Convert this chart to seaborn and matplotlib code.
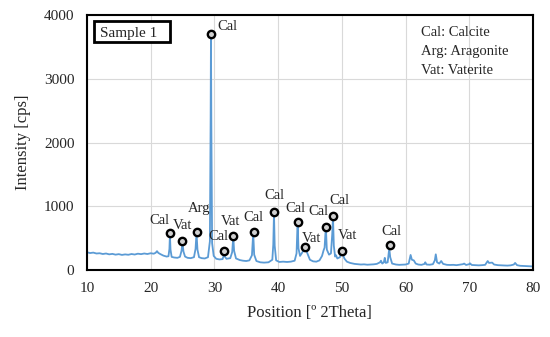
import numpy as np
import pandas as pd
import matplotlib
matplotlib.use("Agg")
import matplotlib.pyplot as plt
import seaborn as sns
from matplotlib.patches import Rectangle

# XRD pattern
two_theta = [10.0, 10.5, 11.0, 11.5, 12.0, 12.5, 13.0, 13.5, 14.0, 14.5, 15.0, 15.5, 16.0, 16.5,
             17.0, 17.5, 18.0, 18.5, 19.0, 19.5, 20.0, 20.5, 20.8, 21.0, 21.2, 21.5, 22.0, 22.5,
             22.8, 22.95, 23.03, 23.12, 23.3, 23.7, 24.2, 24.6, 24.85, 25.0, 25.15, 25.4, 25.8,
             26.3, 26.8, 27.05, 27.2, 27.35, 27.6, 28.0, 28.5, 29.0, 29.3, 29.42, 29.47, 29.53,
             29.65, 29.9, 30.3, 30.8, 31.3, 31.45, 31.55, 31.65, 31.9, 32.5, 32.8, 32.97, 33.1,
             33.4, 34.0, 34.5, 35.0, 35.5, 35.9, 36.1, 36.25, 36.6, 37.2, 37.8, 38.5, 39.1, 39.25,
             39.36, 39.47, 39.7, 40.2, 40.8, 41.4, 42.0, 42.6, 42.9, 43.07, 43.2, 43.45, 43.9,
             44.3, 44.6, 45.0, 45.5, 46.0, 46.5, 46.9, 47.15, 47.3, 47.5, 47.65, 48.0, 48.3, 48.5,
             48.62, 48.75, 48.95, 49.1, 49.3, 49.7, 50.05, 50.4, 50.8, 51.3, 52.0, 52.5, 53.0,
             53.5, 54.0, 54.5, 55.0, 55.5, 56.0, 56.15, 56.35, 56.6, 56.75, 56.9, 57.2, 57.45,
             57.6, 57.9, 58.5, 59.0, 59.5, 60.0, 60.5, 60.8, 61.0, 61.3, 61.6, 62.0, 62.5, 63.0,
             63.1, 63.3, 63.8, 64.3, 64.6, 64.75, 64.95, 65.3, 65.6, 65.9, 66.5, 67.0, 67.5, 68.0,
             68.5, 69.0, 69.2, 69.5, 70.0, 70.1, 70.4, 71.0, 71.5, 72.0, 72.5, 72.9, 73.1, 73.6,
             73.9, 74.5, 75.0, 75.5, 76.0, 76.5, 77.0, 77.2, 77.5, 78.0, 78.5, 79.0, 79.5, 80.0]
intensity = [278, 265, 272, 258, 262, 250, 258, 245, 252, 240, 248, 236, 244, 238,
             250, 242, 255, 248, 258, 250, 262, 255, 270, 295, 268, 250, 225, 210,
             215, 330, 550, 320, 205, 195, 190, 205, 300, 430, 290, 210, 190,
             185, 200, 330, 580, 320, 200, 185, 180, 200, 450, 2400, 3700, 2300,
             420, 220, 175, 165, 170, 220, 265, 210, 175, 185, 280, 520, 300,
             180, 155, 145, 140, 150, 230, 580, 240, 140, 120, 115, 120, 160, 400,
             890, 380, 150, 125, 130, 125, 130, 145, 260, 760, 340, 220, 290,
             365, 260, 160, 135, 130, 150, 220, 310, 350, 680, 320, 240, 260, 560,
             835, 380, 210, 230, 180, 200, 290, 180, 130, 110, 95, 90, 85,
             88, 82, 85, 88, 95, 120, 145, 100, 120, 190, 110, 120, 340,
             200, 100, 85, 80, 82, 85, 100, 235, 160, 150, 100, 85, 80, 95,
             120, 85, 82, 90, 150, 245, 120, 100, 140, 95, 80, 78, 80, 75,
             82, 90, 100, 78, 90, 105, 78, 75, 72, 75, 80, 140, 110, 115,
             85, 75, 72, 70, 68, 72, 85, 110, 75, 65, 62, 60, 58, 55]

# phase markers and their labels
mark_x = [23.03, 25.0, 27.2, 29.47, 31.55, 32.97, 36.17, 39.36, 43.07, 44.3, 47.5, 48.67, 50.07, 57.6]
mark_y = [580, 455, 590, 3702, 298, 528, 590, 910, 753, 360, 680, 852, 303, 387]
phase = ["Cal", "Vat", "Arg", "Cal", "Cal", "Vat", "Cal", "Cal", "Cal", "Vat", "Cal", "Cal", "Vat", "Cal"]
label_x = [21.46, 25.07, 27.58, 31.98, 30.72, 32.6, 36.2, 39.36, 42.8, 45.3, 46.4, 49.7, 50.97, 57.83]
label_y = [784, 690, 957, 3827, 522, 753, 831, 1176, 962, 491, 910, 1087, 538, 596]

legend_lines = ["Cal: Calcite", "Arg: Aragonite", "Vat: Vaterite"]

df = pd.DataFrame({"two_theta": two_theta, "intensity": intensity})
marks = pd.DataFrame({"x": mark_x, "y": mark_y})

sns.set_style("white")
plt.rcParams["font.family"] = ["Liberation Serif", "DejaVu Serif"]

fig = plt.figure(figsize=(5.5, 3.37), dpi=100)
ax = fig.add_axes([0.158, 0.199, 0.811, 0.756])

sns.lineplot(data=df, x="two_theta", y="intensity", ax=ax, color="#5B9BD5", lw=1.3)
sns.scatterplot(data=marks, x="x", y="y", ax=ax, s=28, color="#d0d0d0",
                edgecolor="black", linewidth=1.7, zorder=5)

for lx, ly, t in zip(label_x, label_y, phase):
    ax.text(lx, ly, t, fontsize=10.5, ha="center", va="center", zorder=6)

ax.set_xlim(10, 80)
ax.set_ylim(0, 4000)
ax.set_xticks(range(10, 81, 10))
ax.set_yticks(range(0, 4001, 1000))
ax.grid(True, color="#d9d9d9", lw=0.8)
ax.tick_params(length=0, pad=9, labelsize=11)
for s in ax.spines.values():
    s.set_color("black")
    s.set_linewidth(1.5)

ax.set_xlabel("Position [º 2Theta]", fontsize=12, labelpad=7)
ax.set_ylabel("Intensity [cps]", fontsize=12, labelpad=9)

# "Sample 1" tag in a black frame
ax.add_patch(Rectangle((0.016, 0.894), 0.170, 0.082, transform=ax.transAxes,
                       fc="white", ec="black", lw=2, zorder=6))
ax.text(0.029, 0.928, "Sample 1", transform=ax.transAxes, fontsize=11, va="center", ha="left", zorder=7)

for i, t in enumerate(legend_lines):
    ax.text(62.4, 3720 - i * 298, t, fontsize=10.5, va="center", ha="left")

fig.savefig("out.png", dpi=100)
